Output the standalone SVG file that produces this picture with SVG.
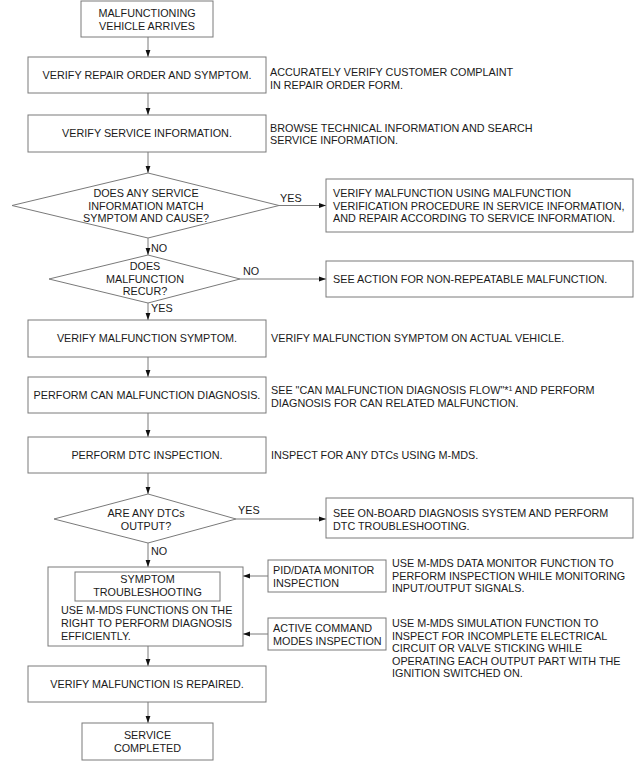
<svg xmlns="http://www.w3.org/2000/svg" width="641" height="772" viewBox="0 0 641 772">
<defs>
<marker id="ah" markerWidth="7" markerHeight="6" refX="7" refY="3" orient="auto" markerUnits="userSpaceOnUse">
<path d="M0,0.6 L7,3 L0,5.4 Z" fill="#111"/>
</marker>
<style>
.b{fill:#fff;stroke:#7a7a7a;stroke-width:1}
text{font-family:"Liberation Sans",Arial,sans-serif;font-size:10.8px;fill:#1a1a1a}
.c{text-anchor:middle}
.ln{stroke:#7a7a7a;stroke-width:1;fill:none;marker-end:url(#ah)}
.sup{font-size:7px}
</style>
</defs>
<rect width="641" height="772" style="fill:#fff;stroke:none"/>
<g id="connectors">
<line class="ln" x1="148" y1="37" x2="148" y2="57"/>
<line class="ln" x1="148" y1="93" x2="148" y2="115"/>
<line class="ln" x1="148" y1="152" x2="148" y2="173"/>
<line class="ln" x1="279" y1="205.5" x2="326" y2="205.5"/>
<line class="ln" x1="148" y1="238" x2="148" y2="255"/>
<line class="ln" x1="240" y1="279" x2="326" y2="279"/>
<line class="ln" x1="148" y1="303" x2="148" y2="320"/>
<line class="ln" x1="148" y1="357" x2="148" y2="377"/>
<line class="ln" x1="148" y1="413" x2="148" y2="437"/>
<line class="ln" x1="148" y1="473" x2="148" y2="494"/>
<line class="ln" x1="236" y1="519" x2="326" y2="519"/>
<line class="ln" x1="148" y1="543" x2="148" y2="567"/>
<line class="ln" x1="268" y1="576" x2="243" y2="576"/>
<line class="ln" x1="268" y1="634" x2="243" y2="634"/>
<line class="ln" x1="148" y1="646" x2="148" y2="666"/>
<line class="ln" x1="148" y1="702" x2="148" y2="723"/>
<text x="280" y="202">YES</text>
<text x="151" y="252">NO</text>
<text x="243" y="275">NO</text>
<text x="151" y="312">YES</text>
<text x="238" y="514">YES</text>
<text x="151" y="555">NO</text>
</g>
<g id="start">
<rect class="b" x="81" y="1" width="132" height="36"/>
<text class="c" x="147" y="17">MALFUNCTIONING</text>
<text class="c" x="147" y="29.5">VEHICLE ARRIVES</text>
</g>
<g id="verify-repair">
<rect class="b" x="28" y="57" width="238" height="36"/>
<text class="c" x="147" y="79">VERIFY REPAIR ORDER AND SYMPTOM.</text>
<text x="270" y="76">ACCURATELY VERIFY CUSTOMER COMPLAINT</text>
<text x="270" y="88.5">IN REPAIR ORDER FORM.</text>
</g>
<g id="verify-service">
<rect class="b" x="28" y="115" width="238" height="37"/>
<text class="c" x="147" y="137">VERIFY SERVICE INFORMATION.</text>
<text x="270" y="131.5">BROWSE TECHNICAL INFORMATION AND SEARCH</text>
<text x="270" y="144">SERVICE INFORMATION.</text>
</g>
<g id="decision-match">
<polygon class="b" points="148,173 279,205.5 148,238 12,205.5"/>
<text class="c" x="146" y="197">DOES ANY SERVICE</text>
<text class="c" x="146" y="209.5">INFORMATION MATCH</text>
<text class="c" x="146" y="222">SYMPTOM AND CAUSE?</text>
</g>
<g id="repair-per-info">
<rect class="b" x="326" y="179" width="307" height="53"/>
<text x="333" y="197">VERIFY MALFUNCTION USING MALFUNCTION</text>
<text x="333" y="209.5">VERIFICATION PROCEDURE IN SERVICE INFORMATION,</text>
<text x="333" y="222">AND REPAIR ACCORDING TO SERVICE INFORMATION.</text>
</g>
<g id="decision-recur">
<polygon class="b" points="148,255 240,279 148,303 49,279"/>
<text class="c" x="145" y="270">DOES</text>
<text class="c" x="145" y="282.5">MALFUNCTION</text>
<text class="c" x="145" y="295">RECUR?</text>
</g>
<g id="non-repeatable">
<rect class="b" x="326" y="261" width="307" height="36"/>
<text x="333" y="283">SEE ACTION FOR NON-REPEATABLE MALFUNCTION.</text>
</g>
<g id="verify-symptom">
<rect class="b" x="28" y="320" width="238" height="37"/>
<text class="c" x="147" y="342">VERIFY MALFUNCTION SYMPTOM.</text>
<text x="271" y="342">VERIFY MALFUNCTION SYMPTOM ON ACTUAL VEHICLE.</text>
</g>
<g id="can-diagnosis">
<rect class="b" x="28" y="377" width="238" height="36"/>
<text class="c" x="147" y="399">PERFORM CAN MALFUNCTION DIAGNOSIS.</text>
<text x="271" y="394">SEE "CAN MALFUNCTION DIAGNOSIS FLOW"*<tspan class="sup" dy="-3">1</tspan><tspan dy="3"> AND PERFORM</tspan></text>
<text x="271" y="406.5">DIAGNOSIS FOR CAN RELATED MALFUNCTION.</text>
</g>
<g id="dtc-inspection">
<rect class="b" x="28" y="437" width="238" height="36"/>
<text class="c" x="147" y="459">PERFORM DTC INSPECTION.</text>
<text x="271" y="459">INSPECT FOR ANY DTCs USING M-MDS.</text>
</g>
<g id="decision-dtc">
<polygon class="b" points="148,494 236,519 148,543 54,519"/>
<text class="c" x="146" y="517">ARE ANY DTCs</text>
<text class="c" x="146" y="529.5">OUTPUT?</text>
</g>
<g id="dtc-troubleshooting">
<rect class="b" x="326" y="498" width="307" height="40"/>
<text x="333" y="517">SEE ON-BOARD DIAGNOSIS SYSTEM AND PERFORM</text>
<text x="333" y="529.5">DTC TROUBLESHOOTING.</text>
</g>
<g id="symptom-troubleshooting">
<rect class="b" x="48" y="567" width="195" height="79"/>
<rect class="b" x="75" y="572" width="145" height="29"/>
<text class="c" x="147.5" y="583">SYMPTOM</text>
<text class="c" x="147.5" y="595.5">TROUBLESHOOTING</text>
<text x="61" y="614">USE M-MDS FUNCTIONS ON THE</text>
<text x="61" y="627">RIGHT TO PERFORM DIAGNOSIS</text>
<text x="61" y="640">EFFICIENTLY.</text>
</g>
<g id="pid-monitor">
<rect class="b" x="268" y="560" width="118" height="32"/>
<text x="273" y="574">PID/DATA MONITOR</text>
<text x="273" y="586.5">INSPECTION</text>
<text x="392" y="567">USE M-MDS DATA MONITOR FUNCTION TO</text>
<text x="392" y="579.5">PERFORM INSPECTION WHILE MONITORING</text>
<text x="392" y="592">INPUT/OUTPUT SIGNALS.</text>
</g>
<g id="active-command">
<rect class="b" x="268" y="618" width="118" height="32"/>
<text x="273" y="632">ACTIVE COMMAND</text>
<text x="273" y="644.5">MODES INSPECTION</text>
<text x="392" y="627">USE M-MDS SIMULATION FUNCTION TO</text>
<text x="392" y="639.5">INSPECT FOR INCOMPLETE ELECTRICAL</text>
<text x="392" y="652">CIRCUIT OR VALVE STICKING WHILE</text>
<text x="392" y="664.5">OPERATING EACH OUTPUT PART WITH THE</text>
<text x="392" y="677">IGNITION SWITCHED ON.</text>
</g>
<g id="verify-repaired">
<rect class="b" x="28" y="666" width="238" height="36"/>
<text class="c" x="147" y="688">VERIFY MALFUNCTION IS REPAIRED.</text>
</g>
<g id="end">
<rect class="b" x="82" y="723" width="131" height="37"/>
<text class="c" x="147.5" y="739">SERVICE</text>
<text class="c" x="147.5" y="751.5">COMPLETED</text>
</g>
</svg>
